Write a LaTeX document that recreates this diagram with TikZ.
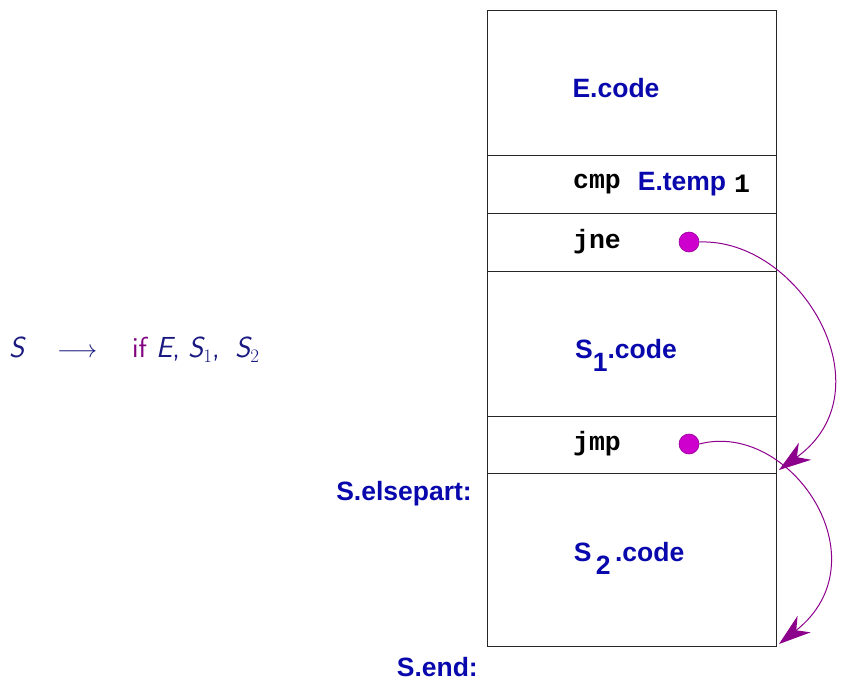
\documentclass[tikz,border=0pt]{standalone}
\usepackage{fontspec}
\setmainfont{Latin Modern Roman}
\newfontfamily\hv{Liberation Sans}
\newfontfamily\cour{Liberation Mono}
\usetikzlibrary{arrows.meta}
\definecolor{codeblue}{RGB}{8,8,172}
\definecolor{navyS}{RGB}{24,24,128}
\definecolor{ifpurple}{RGB}{128,0,128}
\definecolor{arrowpurple}{RGB}{140,0,140}
\definecolor{dotfill}{RGB}{206,0,206}
\definecolor{dotline}{RGB}{150,0,150}
\newcommand{\subdig}[1]{\raisebox{-5pt}{\rmfamily\upshape\fontsize{19}{19}\selectfont #1}}
\tikzset{
  cell/.style={draw=black!85, line width=0.9pt, minimum width=289pt, inner sep=0pt, outer sep=0pt, anchor=north west},
  bluetxt/.style={text=codeblue, font=\hv\bfseries\fontsize{26.5}{30}\selectfont, inner sep=0pt},
  tttxt/.style={font=\cour\bfseries\fontsize{26.5}{30}\selectfont, inner sep=0pt},
  ruletxt/.style={anchor=base west, inner sep=0pt, text=navyS, font=\sffamily\itshape\fontsize{29}{34}\selectfont},
  dot/.style={circle, fill=dotfill, draw=dotline, line width=0.6pt, minimum size=20pt, inner sep=0pt},
  jumparrow/.style={draw=arrowpurple, line width=1pt, -{Stealth[length=32pt,width=21pt,inset=10pt]}}
}
\begin{document}
\begin{tikzpicture}[x=1pt,y=-1pt]
\useasboundingbox (0,0) rectangle (848,682);
% memory cells
\node[cell, minimum height=145pt] (r1) at (487,10) {};
\node[cell, minimum height=58pt] (r2) at (487,155) {};
\node[cell, minimum height=58pt] (r3) at (487,213) {};
\node[cell, minimum height=145pt] (r4) at (487,271) {};
\node[cell, minimum height=57pt] (r5) at (487,416) {};
\node[cell, minimum height=173pt] (r6) at (487,473) {};
% texts
\node[bluetxt] (ecode) at (616,88) {E.code};
\node[tttxt] (cmp) at (597,184) {cmp};
\node[bluetxt] (etemp) at (682,184) {E.temp};
\node[tttxt] (one) at (742,184) {1};
\node[tttxt] (jne) at (597,242) {jne};
\node[dot] (d1) at (689,242) {};
\node[bluetxt, anchor=base] (s1code) at (626,358) {S\raisebox{-13pt}{1}.code};
\node[tttxt] (jmp) at (597,444) {jmp};
\node[dot] (d2) at (689,444) {};
\node[bluetxt, anchor=base] (s2code) at (629,561) {S\,\raisebox{-13pt}{2}\,.code};
\node[bluetxt, anchor=east] (elsepart) at (472,494) {S.elsepart:};
\node[bluetxt, anchor=east] (send) at (478,667) {S.end:};
\coordinate (t1) at (779,470);
\coordinate (t2) at (779,644);
% formula
\node[ruletxt] (lhs) at (9,357) {S};
\node[ruletxt] (arr) at (57,357) {$\longrightarrow$};
\node[ruletxt, text=ifpurple, font=\sffamily\upshape\fontsize{29}{34}\selectfont] (kw) at (132,357) {if};
\node[ruletxt] (argE) at (156,357) {E\upshape,};
\node[ruletxt] (argS1) at (188,357) {S\subdig{1}\upshape,};
\node[ruletxt] (argS2) at (235,357) {S\subdig{2}};
% jumps
\draw[jumparrow] (d1.east) .. controls (800,238) and (890,390) .. (t1);
\draw[jumparrow] (d2.east) .. controls (790,420) and (885,560) .. (t2);
\end{tikzpicture}
\end{document}
